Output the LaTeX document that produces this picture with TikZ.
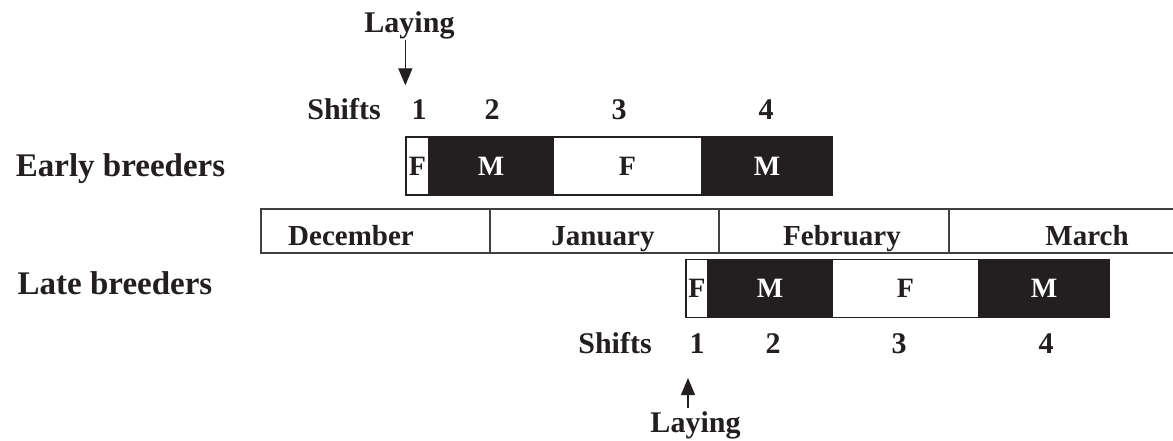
\documentclass[tikz,border=0pt]{standalone}
\usepackage{fontspec}
\setmainfont{Liberation Serif}
\usetikzlibrary{arrows.meta}
\definecolor{ink}{HTML}{231F20}
\tikzset{
  txt/.style={inner sep=0pt, anchor=base, font=\bfseries\fontsize{#1}{#1}\selectfont, text=ink},
  txt/.default=30,
  seg/.style={inner sep=0pt, minimum height=58pt, line width=1.3pt, draw=ink,
              font=\bfseries\fontsize{28}{28}\selectfont},
  wseg/.style={seg, fill=white, text=ink},
  bseg/.style={seg, fill=ink, text=white},
  mcell/.style={inner sep=0pt, minimum height=44pt, line width=1.6pt, draw=black!75, fill=white},
  arr/.style={line width=1.3pt, draw=ink, -{Triangle[length=17pt,width=14pt]}}
}
\begin{document}
\begin{tikzpicture}[x=1pt,y=-1pt]
\useasboundingbox (0,0) rectangle (1173,441);
\fill[white] (0,0) rectangle (1173,441);

% early breeders
\node[txt=33] (early) at (120.5,176) {Early breeders};
\node[txt] (layT) at (409.5,33) {Laying};
\node[txt] (shT) at (344,120) {Shifts};
\node[txt] (t1) at (419,120) {1};
\node[txt] (t2) at (492,120) {2};
\node[txt] (t3) at (619,120) {3};
\node[txt] (t4) at (766,120) {4};
\node[wseg, minimum width=23pt]  (eF1) at (417.5,166) {F};
\node[bseg, minimum width=124pt] (eM1) at (491,166) {M};
\node[wseg, minimum width=149pt] (eF2) at (627.5,166) {F};
\node[bseg, minimum width=130pt] (eM2) at (767,166) {M};
\draw[arr] (layT.south -| eF1.west) -- ([yshift=51pt]eF1.north west);

% months
\node[mcell, minimum width=229pt] (dec) at (375.5,231) {};
\node[mcell, minimum width=229pt] (jan) at (604.5,231) {};
\node[mcell, minimum width=230pt] (feb) at (834,231) {};
\node[mcell, minimum width=240pt] (mar) at (1069,231) {};
\node[txt=29] (decL) at (351,245) {December};
\node[txt=29] (janL) at (603,245) {January};
\node[txt=29] (febL) at (842,245) {February};
\node[txt=29] (marL) at (1087,245) {March};

% late breeders
\node[txt=33] (late) at (115,294) {Late breeders};
\node[wseg, minimum width=22pt]  (lF1) at (697,288.5) {F};
\node[bseg, minimum width=124pt] (lM1) at (770,288.5) {M};
\node[wseg, minimum width=147pt] (lF2) at (905.5,288.5) {F};
\node[bseg, minimum width=130pt] (lM2) at (1044,288.5) {M};
\node[txt] (shB) at (615,353) {Shifts};
\node[txt] (b1) at (697,353) {1};
\node[txt] (b2) at (773,353) {2};
\node[txt] (b3) at (899,353) {3};
\node[txt] (b4) at (1046,353) {4};
\node[txt] (layB) at (695.5,432) {Laying};
\coordinate (tailB) at (688,408);
\draw[arr] (tailB) -- (tailB |- 0,378);
\end{tikzpicture}
\end{document}
